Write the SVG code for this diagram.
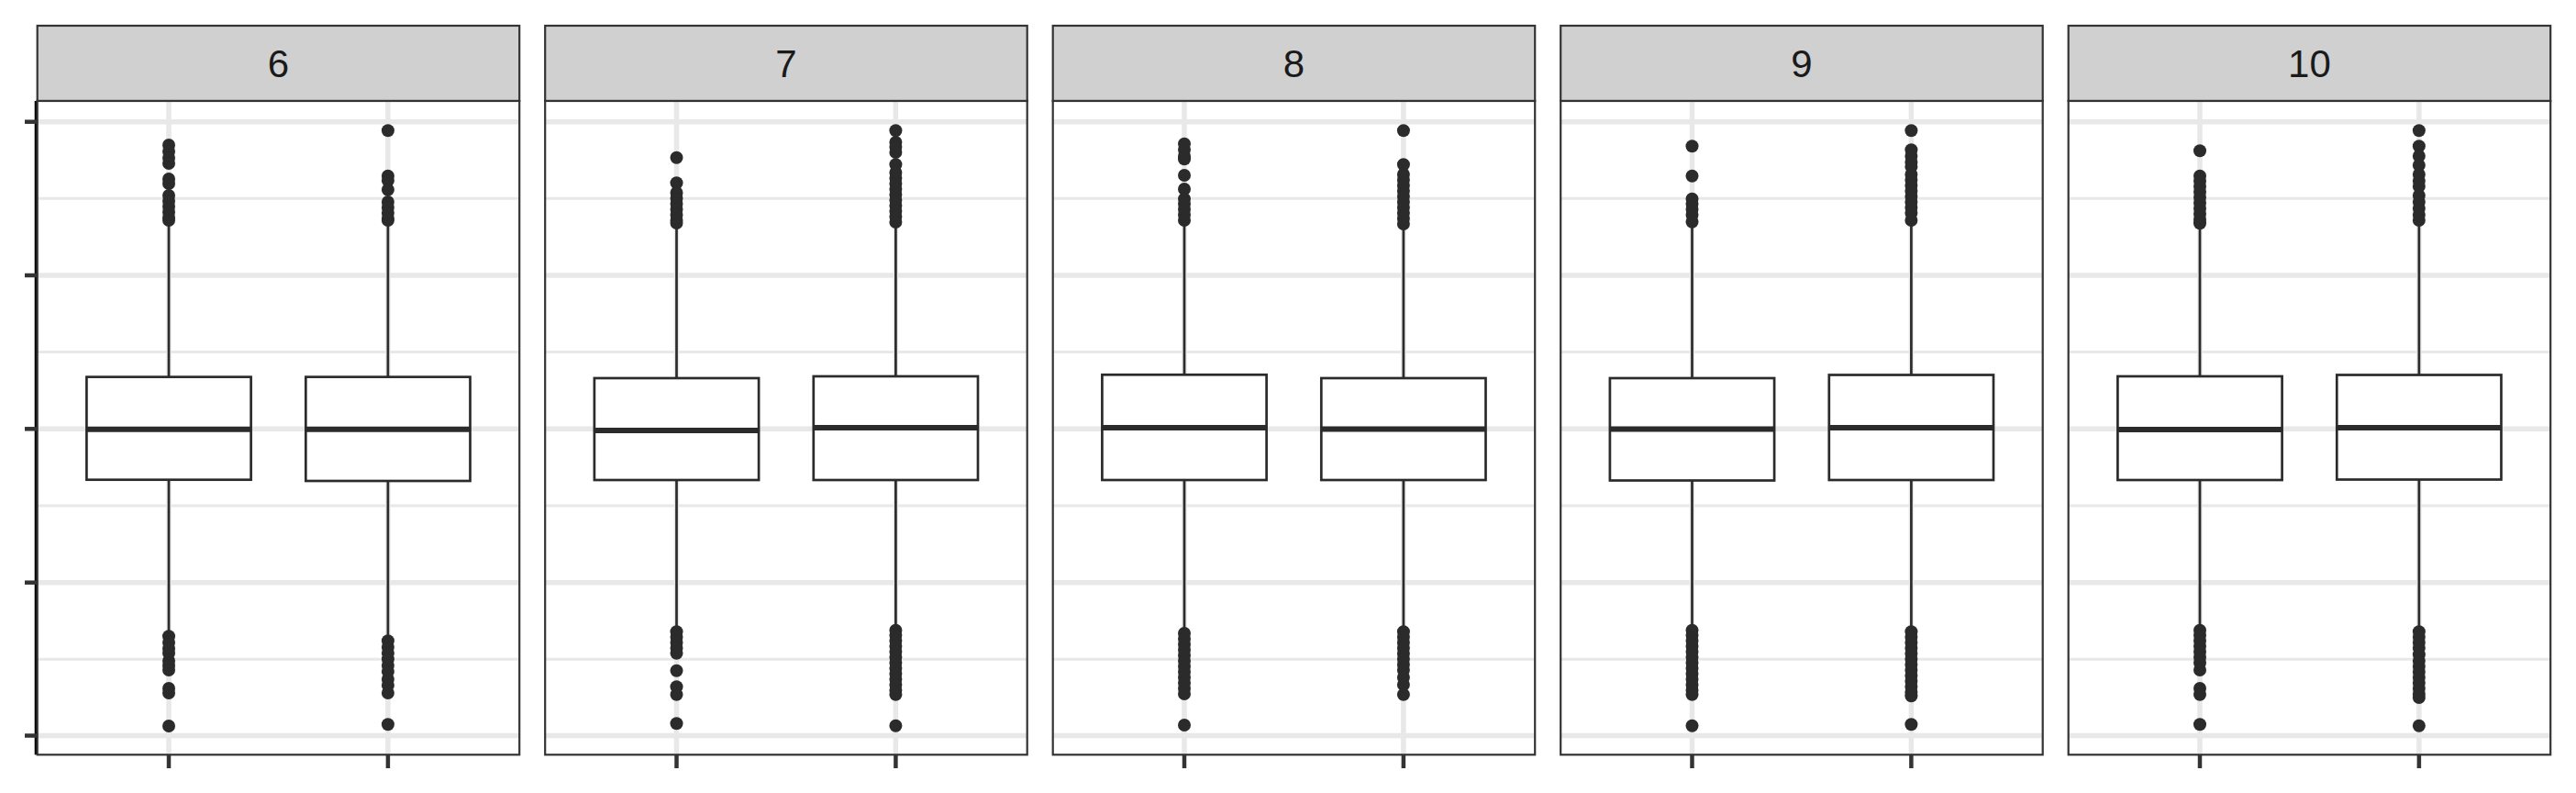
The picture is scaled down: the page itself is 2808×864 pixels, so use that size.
<svg xmlns="http://www.w3.org/2000/svg" width="2808" height="864" viewBox="0 0 2808 864">
<style>
.strip{fill:#D0D0D0;stroke:#333333;stroke-width:2.2}
.bg{fill:#FFFFFF}
.gmaj{stroke:#E8E8E8;stroke-width:5.5}
.gmin{stroke:#E8E8E8;stroke-width:3}
.box{fill:#FFFFFF;stroke:#2B2B2B;stroke-width:2.7}
.med{stroke:#2B2B2B;stroke-width:6}
.wh{stroke:#2B2B2B;stroke-width:2.7}
.o circle{fill:#2B2B2B}
.frame{fill:none;stroke:#333333;stroke-width:2.2}
.tick{stroke:#333333;stroke-width:4.5}
.lbl{font-family:"Liberation Sans",Arial,sans-serif;font-size:42px;fill:#1A1A1A;text-anchor:middle}
</style>
<defs>
<g id="hgrid">
<line class="gmin" x1="0" x2="525.5" y1="216.3" y2="216.3"/>
<line class="gmin" x1="0" x2="525.5" y1="383.6" y2="383.6"/>
<line class="gmin" x1="0" x2="525.5" y1="551" y2="551"/>
<line class="gmin" x1="0" x2="525.5" y1="718.2" y2="718.2"/>
<line class="gmaj" x1="0" x2="525.5" y1="132.7" y2="132.7"/>
<line class="gmaj" x1="0" x2="525.5" y1="300" y2="300"/>
<line class="gmaj" x1="0" x2="525.5" y1="467.3" y2="467.3"/>
<line class="gmaj" x1="0" x2="525.5" y1="634.7" y2="634.7"/>
<line class="gmaj" x1="0" x2="525.5" y1="801.5" y2="801.5"/>
<line class="gmaj" x1="143.3" x2="143.3" y1="110" y2="822.3"/>
<line class="gmaj" x1="382.2" x2="382.2" y1="110" y2="822.3"/>
</g>
</defs>

<g id="axis-y">
<line x1="40.2" x2="40.2" y1="110" y2="822.3" stroke="#000000" stroke-width="5"/>
<line class="tick" x1="27" x2="40" y1="132.7" y2="132.7"/>
<line class="tick" x1="27" x2="40" y1="300" y2="300"/>
<line class="tick" x1="27" x2="40" y1="467.3" y2="467.3"/>
<line class="tick" x1="27" x2="40" y1="634.7" y2="634.7"/>
<line class="tick" x1="27" x2="40" y1="801.5" y2="801.5"/>
</g>

<g id="connectors"></g>

<!-- Panel 6 -->
<g id="panel-6" transform="translate(40.7,0)">
<rect class="strip" x="0" y="28" width="525.5" height="82"/>
<text class="lbl" x="262.75" y="84">6</text>
<rect class="bg" x="0" y="110" width="525.5" height="712.3"/>
<use href="#hgrid"/>
<g id="box-6-1" transform="translate(143.3,0)">
<line class="wh" x1="0" x2="0" y1="245" y2="410.7"/><line class="wh" x1="0" x2="0" y1="522.7" y2="688"/>
<rect class="box" x="-89.6" y="410.7" width="179.2" height="112"/>
<line class="med" x1="-89.6" x2="89.6" y1="467.7" y2="467.7"/>
<g class="o"><circle cy="158" r="7"/><circle cy="165" r="7"/><circle cy="172" r="7"/><circle cy="178" r="7"/><circle cy="195" r="7"/><circle cy="200" r="7"/><circle cy="213" r="7"/><circle cy="219" r="7"/><circle cy="225" r="7"/><circle cy="231" r="7"/><circle cy="237" r="7"/><circle cy="240" r="7"/>
<circle cy="693.3" r="7"/><circle cy="700" r="7"/><circle cy="706.7" r="7"/><circle cy="711.7" r="7"/><circle cy="720" r="7"/><circle cy="725" r="7"/><circle cy="730" r="7"/><circle cy="750" r="7"/><circle cy="755" r="7"/><circle cy="791" r="7"/></g>
</g>
<g id="box-6-2" transform="translate(382.2,0)">
<line class="wh" x1="0" x2="0" y1="245" y2="410.7"/><line class="wh" x1="0" x2="0" y1="524" y2="693"/>
<rect class="box" x="-89.6" y="410.7" width="179.2" height="113.3"/>
<line class="med" x1="-89.6" x2="89.6" y1="467.7" y2="467.7"/>
<g class="o"><circle cy="142.3" r="7"/><circle cy="191.7" r="7"/><circle cy="196.7" r="7"/><circle cy="206.7" r="7"/><circle cy="220" r="7"/><circle cy="226" r="7"/><circle cy="232" r="7"/><circle cy="238" r="7"/><circle cy="240" r="7"/>
<circle cy="698.3" r="7"/><circle cy="705" r="7"/><circle cy="711.7" r="7"/><circle cy="718.3" r="7"/><circle cy="725" r="7"/><circle cy="731.7" r="7"/><circle cy="740" r="7"/><circle cy="746.7" r="7"/><circle cy="755" r="7"/><circle cy="789.3" r="7"/></g>
</g>
<rect class="frame" x="0" y="110" width="525.5" height="712.3"/>
<line class="tick" x1="143.3" x2="143.3" y1="822.3" y2="837"/>
<line class="tick" x1="382.2" x2="382.2" y1="822.3" y2="837"/>
</g>

<!-- Panel 7 -->
<g id="panel-7" transform="translate(594.2,0)">
<rect class="strip" x="0" y="28" width="525.5" height="82"/>
<text class="lbl" x="262.75" y="84">7</text>
<rect class="bg" x="0" y="110" width="525.5" height="712.3"/>
<use href="#hgrid"/>
<g id="box-7-1" transform="translate(143.3,0)">
<line class="wh" x1="0" x2="0" y1="245" y2="412"/><line class="wh" x1="0" x2="0" y1="523" y2="686"/>
<rect class="box" x="-89.6" y="412" width="179.2" height="111"/>
<line class="med" x1="-89.6" x2="89.6" y1="469" y2="469"/>
<g class="o"><circle cy="171.7" r="7"/><circle cy="199.3" r="7"/><circle cy="210" r="7"/><circle cy="216" r="7"/><circle cy="222" r="7"/><circle cy="228" r="7"/><circle cy="234" r="7"/><circle cy="240" r="7"/><circle cy="243" r="7"/>
<circle cy="688.3" r="7"/><circle cy="694" r="7"/><circle cy="700" r="7"/><circle cy="706" r="7"/><circle cy="711.7" r="7"/><circle cy="730.7" r="7"/><circle cy="748.3" r="7"/><circle cy="756.7" r="7"/><circle cy="788.3" r="7"/></g>
</g>
<g id="box-7-2" transform="translate(382.2,0)">
<line class="wh" x1="0" x2="0" y1="245" y2="410"/><line class="wh" x1="0" x2="0" y1="523" y2="686"/>
<rect class="box" x="-89.6" y="410" width="179.2" height="113"/>
<line class="med" x1="-89.6" x2="89.6" y1="466" y2="466"/>
<g class="o"><circle cy="142.3" r="7"/><circle cy="155" r="7"/><circle cy="160" r="7"/><circle cy="166" r="7"/><circle cy="179.3" r="7"/><circle cy="188" r="7"/><circle cy="194" r="7"/><circle cy="200" r="7"/><circle cy="206" r="7"/><circle cy="212" r="7"/><circle cy="218" r="7"/><circle cy="224" r="7"/><circle cy="230" r="7"/><circle cy="236" r="7"/><circle cy="242" r="7"/>
<circle cy="686.7" r="7"/><circle cy="692" r="7"/><circle cy="698" r="7"/><circle cy="704" r="7"/><circle cy="710" r="7"/><circle cy="716" r="7"/><circle cy="722" r="7"/><circle cy="728" r="7"/><circle cy="734" r="7"/><circle cy="740" r="7"/><circle cy="746" r="7"/><circle cy="752" r="7"/><circle cy="756.7" r="7"/><circle cy="790.7" r="7"/></g>
</g>
<rect class="frame" x="0" y="110" width="525.5" height="712.3"/>
<line class="tick" x1="143.3" x2="143.3" y1="822.3" y2="837"/>
<line class="tick" x1="382.2" x2="382.2" y1="822.3" y2="837"/>
</g>

<!-- Panel 8 -->
<g id="panel-8" transform="translate(1147.7,0)">
<rect class="strip" x="0" y="28" width="525.5" height="82"/>
<text class="lbl" x="262.75" y="84">8</text>
<rect class="bg" x="0" y="110" width="525.5" height="712.3"/>
<use href="#hgrid"/>
<g id="box-8-1" transform="translate(143.3,0)">
<line class="wh" x1="0" x2="0" y1="245" y2="408.3"/><line class="wh" x1="0" x2="0" y1="523" y2="686"/>
<rect class="box" x="-89.6" y="408.3" width="179.2" height="114.7"/>
<line class="med" x1="-89.6" x2="89.6" y1="466" y2="466"/>
<g class="o"><circle cy="156.7" r="7"/><circle cy="163" r="7"/><circle cy="170" r="7"/><circle cy="173.3" r="7"/><circle cy="191" r="7"/><circle cy="206" r="7"/><circle cy="216.7" r="7"/><circle cy="222" r="7"/><circle cy="228" r="7"/><circle cy="234" r="7"/><circle cy="240" r="7"/>
<circle cy="690" r="7"/><circle cy="696" r="7"/><circle cy="702" r="7"/><circle cy="708" r="7"/><circle cy="714" r="7"/><circle cy="720" r="7"/><circle cy="726" r="7"/><circle cy="732" r="7"/><circle cy="738" r="7"/><circle cy="744" r="7"/><circle cy="750" r="7"/><circle cy="756" r="7"/><circle cy="790" r="7"/></g>
</g>
<g id="box-8-2" transform="translate(382.2,0)">
<line class="wh" x1="0" x2="0" y1="246" y2="412"/><line class="wh" x1="0" x2="0" y1="523" y2="686"/>
<rect class="box" x="-89.6" y="412" width="179.2" height="111"/>
<line class="med" x1="-89.6" x2="89.6" y1="467.5" y2="467.5"/>
<g class="o"><circle cy="142.3" r="7"/><circle cy="179.3" r="7"/><circle cy="190" r="7"/><circle cy="196" r="7"/><circle cy="202" r="7"/><circle cy="208" r="7"/><circle cy="214" r="7"/><circle cy="220" r="7"/><circle cy="226" r="7"/><circle cy="232" r="7"/><circle cy="238" r="7"/><circle cy="244" r="7"/>
<circle cy="688.3" r="7"/><circle cy="694" r="7"/><circle cy="700" r="7"/><circle cy="706" r="7"/><circle cy="712" r="7"/><circle cy="718" r="7"/><circle cy="724" r="7"/><circle cy="730" r="7"/><circle cy="738" r="7"/><circle cy="746" r="7"/><circle cy="756.7" r="7"/></g>
</g>
<rect class="frame" x="0" y="110" width="525.5" height="712.3"/>
<line class="tick" x1="143.3" x2="143.3" y1="822.3" y2="837"/>
<line class="tick" x1="382.2" x2="382.2" y1="822.3" y2="837"/>
</g>

<!-- Panel 9 -->
<g id="panel-9" transform="translate(1701.2,0)">
<rect class="strip" x="0" y="28" width="525.5" height="82"/>
<text class="lbl" x="262.75" y="84">9</text>
<rect class="bg" x="0" y="110" width="525.5" height="712.3"/>
<use href="#hgrid"/>
<g id="box-9-1" transform="translate(143.3,0)">
<line class="wh" x1="0" x2="0" y1="245" y2="412"/><line class="wh" x1="0" x2="0" y1="523.5" y2="686"/>
<rect class="box" x="-89.6" y="412" width="179.2" height="111.5"/>
<line class="med" x1="-89.6" x2="89.6" y1="467.5" y2="467.5"/>
<g class="o"><circle cy="159.3" r="7"/><circle cy="191.7" r="7"/><circle cy="216.7" r="7"/><circle cy="222" r="7"/><circle cy="228" r="7"/><circle cy="234" r="7"/><circle cy="241.7" r="7"/>
<circle cy="686.7" r="7"/><circle cy="692" r="7"/><circle cy="698" r="7"/><circle cy="704" r="7"/><circle cy="710" r="7"/><circle cy="716" r="7"/><circle cy="722" r="7"/><circle cy="728" r="7"/><circle cy="734" r="7"/><circle cy="740" r="7"/><circle cy="746" r="7"/><circle cy="752" r="7"/><circle cy="756.7" r="7"/><circle cy="790.7" r="7"/></g>
</g>
<g id="box-9-2" transform="translate(382.2,0)">
<line class="wh" x1="0" x2="0" y1="245" y2="408.5"/><line class="wh" x1="0" x2="0" y1="523" y2="686"/>
<rect class="box" x="-89.6" y="408.5" width="179.2" height="114.5"/>
<line class="med" x1="-89.6" x2="89.6" y1="466" y2="466"/>
<g class="o"><circle cy="142.3" r="7"/><circle cy="163.3" r="7"/><circle cy="170" r="7"/><circle cy="176.7" r="7"/><circle cy="181.7" r="7"/><circle cy="190" r="7"/><circle cy="196" r="7"/><circle cy="202" r="7"/><circle cy="208" r="7"/><circle cy="214" r="7"/><circle cy="220" r="7"/><circle cy="226" r="7"/><circle cy="232" r="7"/><circle cy="240" r="7"/>
<circle cy="688.3" r="7"/><circle cy="694" r="7"/><circle cy="700" r="7"/><circle cy="706" r="7"/><circle cy="712" r="7"/><circle cy="718" r="7"/><circle cy="724" r="7"/><circle cy="730" r="7"/><circle cy="736" r="7"/><circle cy="742" r="7"/><circle cy="748" r="7"/><circle cy="754" r="7"/><circle cy="758.3" r="7"/><circle cy="789.3" r="7"/></g>
</g>
<rect class="frame" x="0" y="110" width="525.5" height="712.3"/>
<line class="tick" x1="143.3" x2="143.3" y1="822.3" y2="837"/>
<line class="tick" x1="382.2" x2="382.2" y1="822.3" y2="837"/>
</g>

<!-- Panel 10 -->
<g id="panel-10" transform="translate(2254.7,0)">
<rect class="strip" x="0" y="28" width="525.5" height="82"/>
<text class="lbl" x="262.75" y="84">10</text>
<rect class="bg" x="0" y="110" width="525.5" height="712.3"/>
<use href="#hgrid"/>
<g id="box-10-1" transform="translate(143.3,0)">
<line class="wh" x1="0" x2="0" y1="245" y2="410"/><line class="wh" x1="0" x2="0" y1="523" y2="686"/>
<rect class="box" x="-89.6" y="410" width="179.2" height="113"/>
<line class="med" x1="-89.6" x2="89.6" y1="468" y2="468"/>
<g class="o"><circle cy="164.3" r="7"/><circle cy="191.7" r="7"/><circle cy="197" r="7"/><circle cy="203" r="7"/><circle cy="209" r="7"/><circle cy="215" r="7"/><circle cy="221" r="7"/><circle cy="227" r="7"/><circle cy="233" r="7"/><circle cy="239" r="7"/><circle cy="243.3" r="7"/>
<circle cy="686.7" r="7"/><circle cy="692" r="7"/><circle cy="698" r="7"/><circle cy="704" r="7"/><circle cy="710" r="7"/><circle cy="716" r="7"/><circle cy="722" r="7"/><circle cy="730" r="7"/><circle cy="750" r="7"/><circle cy="756.7" r="7"/><circle cy="789.3" r="7"/></g>
</g>
<g id="box-10-2" transform="translate(382.2,0)">
<line class="wh" x1="0" x2="0" y1="245" y2="408.5"/><line class="wh" x1="0" x2="0" y1="522.5" y2="686"/>
<rect class="box" x="-89.6" y="408.5" width="179.2" height="114"/>
<line class="med" x1="-89.6" x2="89.6" y1="466" y2="466"/>
<g class="o"><circle cy="142.3" r="7"/><circle cy="159.3" r="7"/><circle cy="170" r="7"/><circle cy="180" r="7"/><circle cy="190" r="7"/><circle cy="197" r="7"/><circle cy="203" r="7"/><circle cy="213" r="7"/><circle cy="220" r="7"/><circle cy="227" r="7"/><circle cy="234" r="7"/><circle cy="240" r="7"/>
<circle cy="688.3" r="7"/><circle cy="694" r="7"/><circle cy="700" r="7"/><circle cy="706" r="7"/><circle cy="713.3" r="7"/><circle cy="720" r="7"/><circle cy="726" r="7"/><circle cy="732" r="7"/><circle cy="738" r="7"/><circle cy="744" r="7"/><circle cy="750" r="7"/><circle cy="756" r="7"/><circle cy="760" r="7"/><circle cy="790.7" r="7"/></g>
</g>
<rect class="frame" x="0" y="110" width="525.5" height="712.3"/>
<line class="tick" x1="143.3" x2="143.3" y1="822.3" y2="837"/>
<line class="tick" x1="382.2" x2="382.2" y1="822.3" y2="837"/>
</g>
</svg>
